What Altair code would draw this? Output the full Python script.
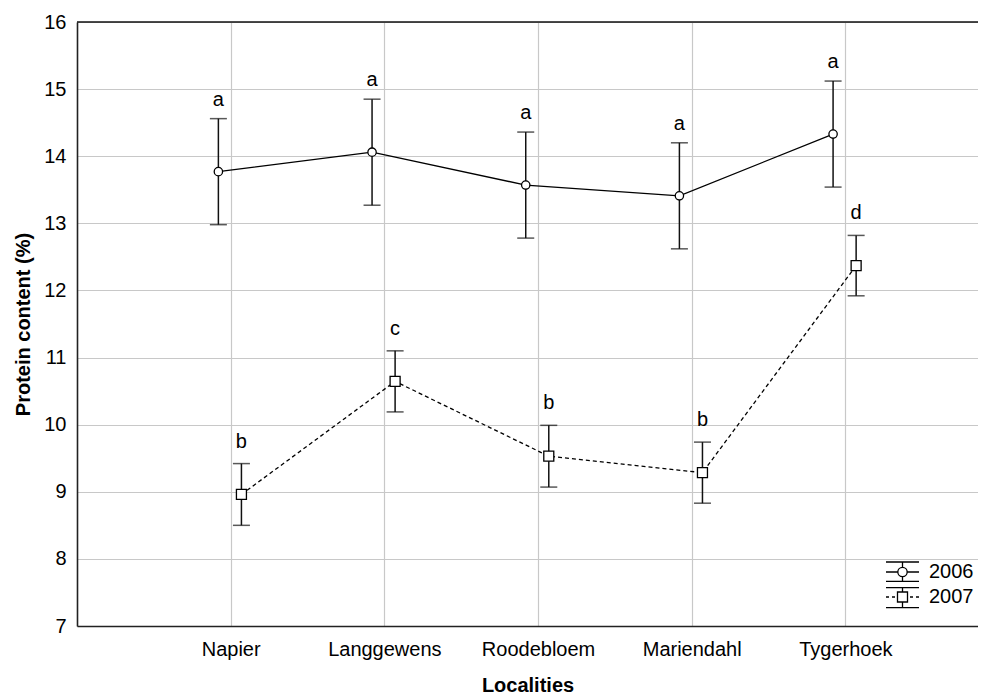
import json
import altair as alt
import pandas as pd

# ---- data ----
categories = ["Napier", "Langgewens", "Roodebloem", "Mariendahl", "Tygerhoek"]
series_names = ["2006", "2007"]
mean_2006 = [13.77, 14.06, 13.57, 13.41, 14.33]
err_2006 = [0.79, 0.79, 0.79, 0.79, 0.79]
mean_2007 = [8.96, 10.645, 9.53, 9.285, 12.37]
err_2007 = [0.46, 0.455, 0.46, 0.455, 0.45]
letters_2006 = ["a", "a", "a", "a", "a"]
letters_2007 = ["b", "c", "b", "b", "d"]
y_ticks = [7, 8, 9, 10, 11, 12, 13, 14, 15, 16]

rows = []
for i, c in enumerate(categories):
    rows.append(dict(idx=i + 1, cat=c, series="2006", mean=mean_2006[i], err=err_2006[i], letter=letters_2006[i]))
for i, c in enumerate(categories):
    rows.append(dict(idx=i + 1, cat=c, series="2007", mean=mean_2007[i], err=err_2007[i], letter=letters_2007[i]))
df = pd.DataFrame(rows)

W, H = 901, 604
FONT = "Liberation Sans"

xscale = alt.Scale(domain=[0, 5.863], nice=False, zero=False)
yscale = alt.Scale(domain=[7, 16], nice=False, zero=False)

label_expr = json.dumps(categories) + "[datum.value - 1]"

base = alt.Chart(df).transform_calculate(
    xpos="datum.idx + (datum.series == '2006' ? -0.08 : 0.07)",
    lower="datum.mean - datum.err",
    upper="datum.mean + datum.err",
)
b06 = base.transform_filter("datum.series == '2006'")
b07 = base.transform_filter("datum.series == '2007'")

X = alt.X("xpos:Q", scale=xscale,
          axis=alt.Axis(values=[1, 2, 3, 4, 5], labelExpr=label_expr, title="Localities",
                        grid=True, gridColor="#c8c8c8", gridWidth=1.2, ticks=False,
                        domainColor="#222222", domainWidth=1.6,
                        labelFont=FONT, labelFontSize=20, labelColor="black", labelPadding=13,
                        titleFont=FONT, titleFontSize=20, titleFontWeight="bold", titleColor="black",
                        titlePadding=16))
Y = alt.Y("mean:Q", scale=yscale,
          axis=alt.Axis(values=y_ticks, format="d", title="Protein content (%)", grid=True,
                        gridColor="#c8c8c8", gridWidth=1.2, ticks=False,
                        domainColor="#222222", domainWidth=1.6,
                        labelFont=FONT, labelFontSize=20, labelColor="black", labelPadding=11,
                        titleFont=FONT, titleFontSize=20, titleFontWeight="bold", titleColor="black",
                        titlePadding=10))

line06 = b06.mark_line(color="black", strokeWidth=1.3).encode(x=X, y=Y, order="idx:Q")
line07 = b07.mark_line(color="black", strokeWidth=1.3, strokeDash=[4, 3]).encode(
    x="xpos:Q", y="mean:Q", order="idx:Q")

bars = base.mark_rule(color="#111111", strokeWidth=1.5).encode(
    x="xpos:Q", y="lower:Q", y2="upper:Q")

cap_top = base.mark_tick(orient="horizontal", size=17, thickness=1.5, color="#111111").encode(
    x="xpos:Q", y="upper:Q")
cap_bot = base.mark_tick(orient="horizontal", size=17, thickness=1.5, color="#111111").encode(
    x="xpos:Q", y="lower:Q")

pts06 = b06.mark_point(
    shape="circle", size=70, filled=True, fill="white", stroke="black", strokeWidth=1.3, opacity=1
).encode(x="xpos:Q", y="mean:Q")
pts07 = b07.mark_point(
    shape="square", size=100, filled=True, fill="white", stroke="black", strokeWidth=1.3, opacity=1
).encode(x="xpos:Q", y="mean:Q")

let06 = b06.mark_text(font=FONT, fontSize=20, color="black", baseline="alphabetic", dy=-13).encode(
    x="xpos:Q", y="upper:Q", text="letter:N")
let07 = b07.mark_text(font=FONT, fontSize=20, color="black", baseline="alphabetic", dy=-16).encode(
    x="xpos:Q", y="upper:Q", text="letter:N")

# legend symbols: mini error-bar glyphs as custom paths
path06 = ("M -1.375 -0.833 L 1.375 -0.833 "
          "M -1.375 0 L -0.39 0 M 0.39 0 L 1.375 0 "
          "M 0 -0.833 L 0 -0.39 M 0 0.39 L 0 0.775 "
          "M -1.375 0.775 L 1.375 0.775 "
          "M 0.39 0 A 0.39 0.39 0 1 1 -0.39 0 A 0.39 0.39 0 1 1 0.39 0 Z")
path07 = ("M -1.375 -0.775 L 1.375 -0.775 "
          "M -1.375 0 L -1.125 0 M -0.875 0 L -0.625 0 "
          "M 0.625 0 L 0.875 0 M 1.125 0 L 1.375 0 "
          "M 0 -0.775 L 0 -0.417 M 0 0.417 L 0 0.89 "
          "M -1.375 0.89 L 1.375 0.89 "
          "M -0.417 -0.417 L 0.417 -0.417 L 0.417 0.417 L -0.417 0.417 Z")

legend_layer = base.mark_point(opacity=0, filled=False, color="black", strokeWidth=1.3).encode(
    x="xpos:Q", y="mean:Q",
    shape=alt.Shape("series:N", scale=alt.Scale(domain=series_names, range=[path06, path07]),
                    legend=alt.Legend(title=None, orient="none", legendX=812.5, legendY=537,
                                      symbolSize=576, symbolStrokeColor="black",
                                      symbolStrokeWidth=1.3, symbolOpacity=1, labelFont=FONT,
                                      labelFontSize=20, labelColor="black", labelOffset=13.5,
                                      rowPadding=0, padding=0)),
)

top_border = alt.Chart(pd.DataFrame({"v": [16]})).mark_rule(color="#111111", strokeWidth=1.6).encode(
    y=alt.Y("v:Q", scale=yscale), x=alt.value(0), x2=alt.value(W))

chart = alt.layer(line06, line07, bars, cap_top, cap_bot, pts06, pts07, let06, let07,
                  legend_layer, top_border).properties(
    width=W, height=H,
    padding={"left": 69, "top": 14, "right": 0, "bottom": 69},
    autosize=alt.AutoSizeParams(type="none"),
).configure_view(stroke=None).configure_range(
    symbol=[path06, path07]
).configure(background="white")

chart.save("out.html", embed_options={"renderer": "svg", "actions": False})
